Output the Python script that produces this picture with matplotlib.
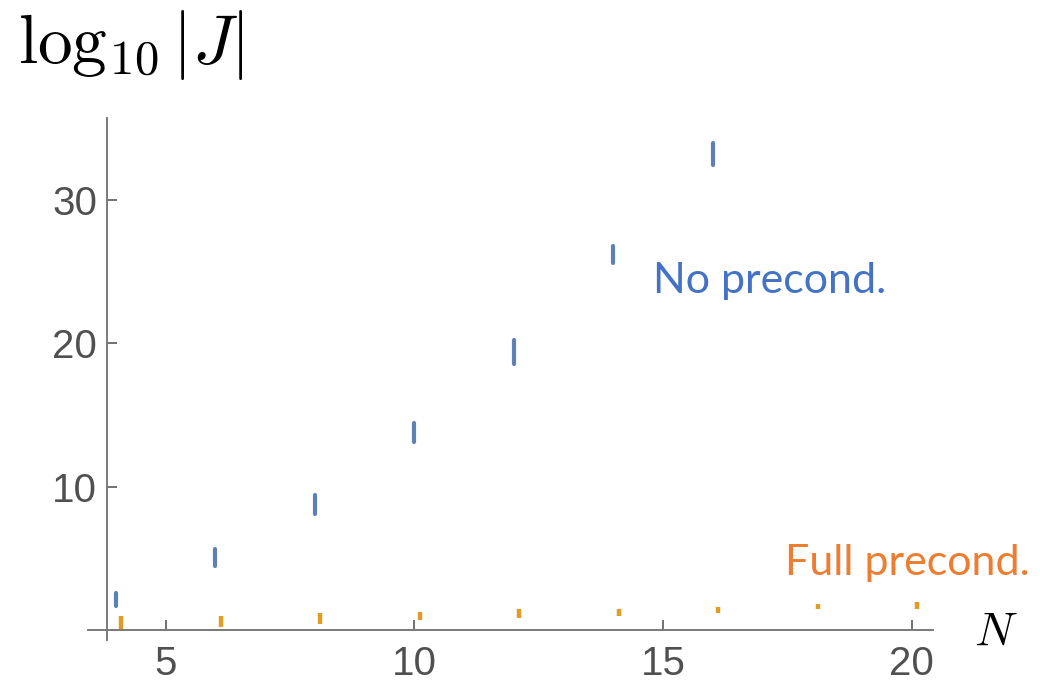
import matplotlib
matplotlib.use("Agg")
import matplotlib.pyplot as plt
import matplotlib.transforms as mtransforms

# ---- data ----
N_no = [4, 6, 8, 10, 12, 14, 16]
no_lo = [1.67, 4.49, 8.07, 13.10, 18.54, 25.60, 32.45]
no_hi = [2.56, 5.65, 9.42, 14.42, 20.24, 26.80, 34.00]

N_full = [4, 6, 8, 10, 12, 14, 16, 18, 20]
full_lo = [0.07, 0.23, 0.40, 0.70, 0.86, 1.00, 1.17, 1.47, 1.47]
full_hi = [0.98, 1.00, 1.16, 1.28, 1.44, 1.44, 1.63, 1.81, 1.93]

x_ticks = [5, 10, 15, 20]
y_ticks = [10, 20, 30]

label_no = "No precond."
label_full = "Full precond."

BLUE = "#5E81B5"
ORANGE = "#E19C24"
AX_GRAY = "#7a7a7a"
TXT_GRAY = "#505050"

W, H = 1040, 684
fig = plt.figure(figsize=(W / 100, H / 100), dpi=100)
plt.rcParams['mathtext.fontset'] = 'cm'

# axes box in pixels
left_px, right_px, top_px, bot_px = 88, 933, 118, 640
ax = fig.add_axes([left_px / W, 1 - bot_px / H,
                   (right_px - left_px) / W, (bot_px - top_px) / H])
ax.set_xlim(3.44, 20.43)
ax.set_ylim(-0.70, 35.73)

for s in ['top', 'right']:
    ax.spines[s].set_visible(False)
ax.spines['left'].set_position(('data', 3.82))
ax.spines['bottom'].set_position(('data', 0))
for s in ['left', 'bottom']:
    ax.spines[s].set_color(AX_GRAY)
    ax.spines[s].set_linewidth(1.4)

ax.set_xticks(x_ticks)
ax.set_yticks(y_ticks)
ax.tick_params(direction='in', length=7, width=1.3, color='#666666',
               labelsize=29, labelcolor=TXT_GRAY)
ax.tick_params(axis='x', pad=11)
ax.tick_params(axis='y', pad=7)
for lab in ax.get_xticklabels() + ax.get_yticklabels():
    lab.set_fontfamily('Liberation Sans')

# data marks (vertical range bars)
ax.vlines(N_no, no_lo, no_hi, colors=BLUE, linewidth=3.0, capstyle='round')
off = mtransforms.offset_copy(ax.transData, fig=fig, x=5.5, y=0, units='dots')
ax.vlines(N_full, full_lo, full_hi, colors=ORANGE, linewidth=3.2,
          capstyle='butt', transform=off)

# text annotations
fig.text(653 / W, 1 - 293 / H, label_no, color="#4472C4", fontsize=31,
         fontfamily='Lato', ha='left', va='baseline')
fig.text(785 / W, 1 - 575 / H, label_full, color="#ED7D31", fontsize=31,
         fontfamily='Lato', ha='left', va='baseline')

# axis labels
fig.text(18 / W, 1 - 63 / H, r'$\log_{10}|J|$', fontsize=50,
         ha='left', va='baseline', color='black')
fig.text(996 / W, 1 - 632 / H, r'$N$', fontsize=34,
         ha='center', va='center', color='black')

fig.savefig("out.png", dpi=100)
